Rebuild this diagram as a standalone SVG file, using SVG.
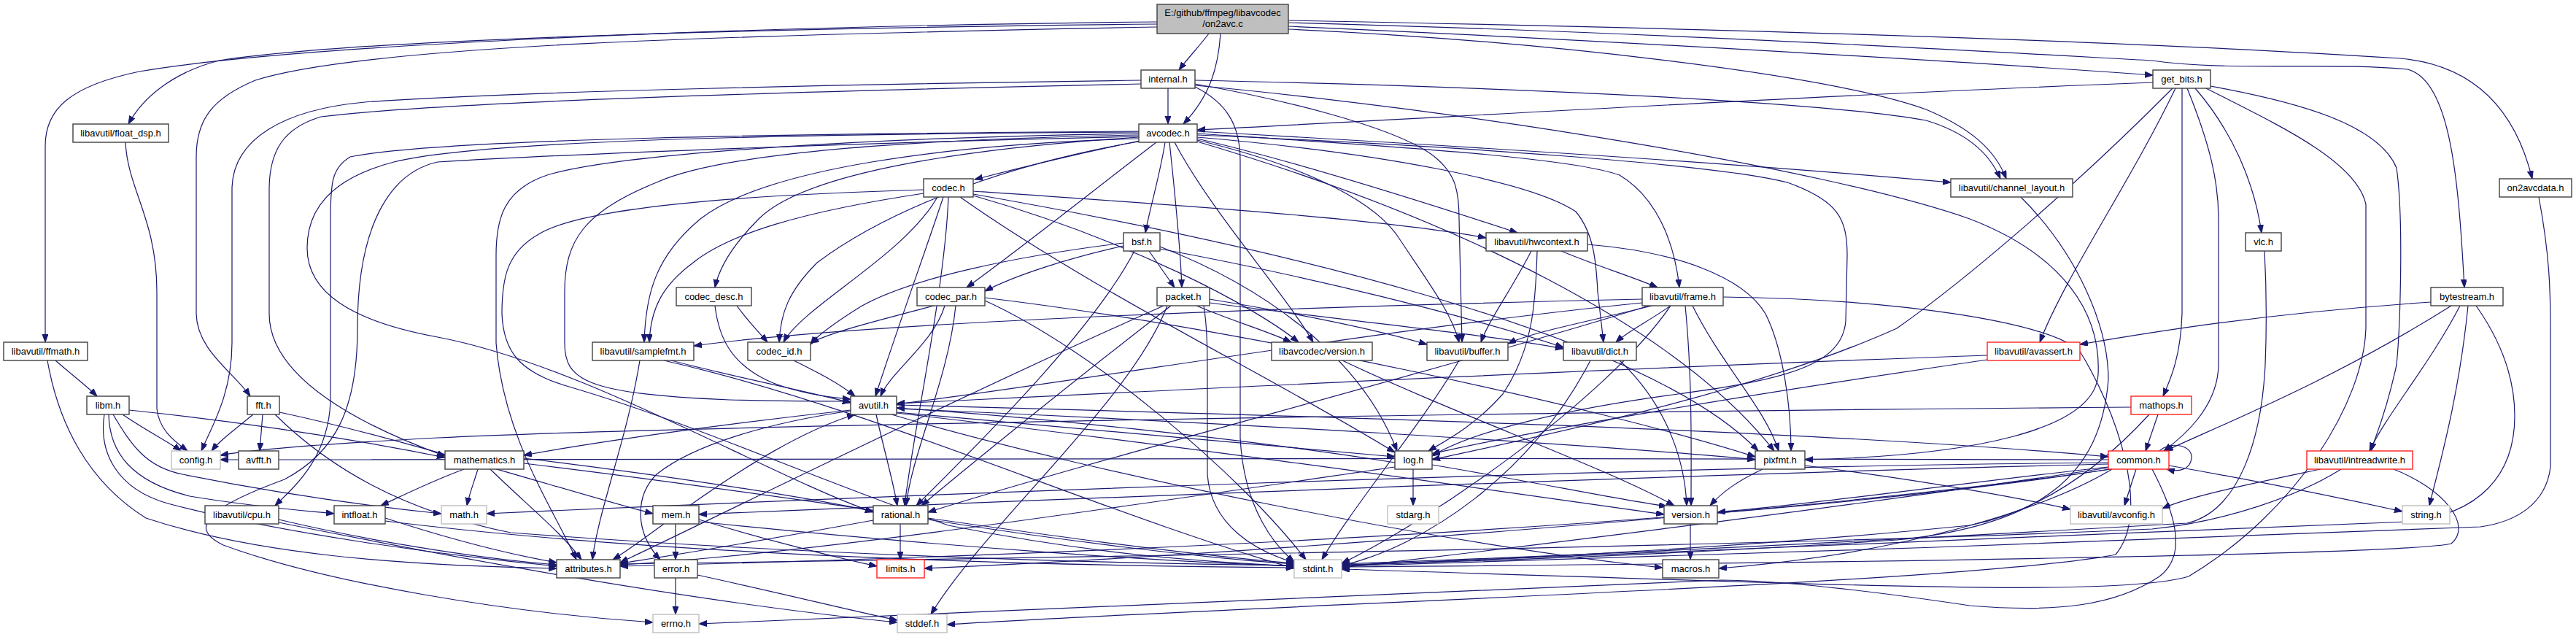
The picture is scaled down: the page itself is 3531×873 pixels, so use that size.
<svg xmlns="http://www.w3.org/2000/svg" width="3531" height="873" viewBox="0 0 3531 873">
<style>
.n rect{fill:#ffffff;stroke:#404040;stroke-width:1.4}
.n.r rect{stroke:#ff2020}
.n.g rect{stroke:#bfbfbf}
.n.root rect{fill:#bfbfbf}
text{font-family:"Liberation Sans",Arial,Helvetica,sans-serif;font-size:13px;text-anchor:middle;fill:#000000}
</style>
<defs>
<marker id="arrow" markerUnits="userSpaceOnUse" markerWidth="12" markerHeight="9" refX="11" refY="4" orient="auto">
<path d="M0,0 L11,4 L0,8 z" fill="#191970" stroke="#191970" stroke-width="1"/>
</marker>
</defs>
<rect x="0" y="0" width="3531" height="873" fill="#ffffff"/>
<g id="edges" fill="none" stroke="#191970" stroke-width="1.2" marker-end="url(#arrow)">
<path d="M1657,46 C1645,62 1628,80 1616,96"/>
<path d="M1673,46 C1670,90 1660,130 1622,170"/>
<path d="M1586,30 C1000,36 400,62 191,98 C95,118 62,150 62,200 L62,469"/>
<path d="M1586,33 C1100,38 500,52 300,83 C235,100 195,135 176,170"/>
<path d="M1586,37 C1000,48 500,62 350,110 C290,135 269,165 269,215 L269,430 C270,480 320,510 343,543"/>
<path d="M1766,40 C2100,55 2500,100 2640,150 C2700,175 2735,205 2750,245"/>
<path d="M1766,36 C2200,55 2700,85 2951,103"/>
<path d="M1766,31 C2300,45 2800,75 2950,83 C3050,98 3200,85 3300,95 C3360,110 3370,250 3378,394"/>
<path d="M1766,28 C2300,38 2900,55 3290,80 C3400,90 3450,160 3471,245"/>
<path d="M1601,121 L1601,170"/>
<path d="M1564,110 C1200,115 700,125 500,140 C390,150 318,190 318,260 L318,470 C318,540 290,585 276,618"/>
<path d="M1564,115 C1100,125 600,140 440,160 C390,175 369,205 369,260 L369,430 C369,520 500,585 610,625"/>
<path d="M1638,110 C2100,120 2500,140 2640,165 C2690,180 2725,205 2742,245"/>
<path d="M1638,117 C2000,150 2500,230 2700,300 C2830,350 2880,430 2876,513 C2872,590 2700,625 2474,630"/>
<path d="M1638,115 C1750,135 1900,170 1960,210 C1995,235 2000,260 2000,300 L2004,469"/>
<path d="M1638,119 C1680,140 1700,170 1700,220 L1700,600 C1705,700 1750,750 1774,770"/>
<path d="M1562,193 C1480,210 1390,232 1336,246"/>
<path d="M1585,195 C1500,260 1400,340 1325,394"/>
<path d="M1597,195 C1590,240 1575,290 1570,319"/>
<path d="M1603,195 C1610,260 1618,340 1620,394"/>
<path d="M1610,195 C1660,290 1760,400 1800,469"/>
<path d="M1561,188 C1300,205 1100,240 1040,300 C1000,340 985,370 980,394"/>
<path d="M1561,190 C1300,198 1050,230 960,300 C900,350 885,400 883,469"/>
<path d="M1561,185 C1300,190 1000,205 900,250 C800,290 774,330 774,400 L774,470 C774,520 800,540 1000,548 C1080,550 1130,550 1166,550"/>
<path d="M1561,183 C1200,188 850,210 750,240 C690,260 680,300 680,350 L680,470 C690,600 760,700 790,767"/>
<path d="M1561,180 C1100,183 600,190 480,215 C455,230 453,250 453,300 L453,550 C450,630 400,670 377,693"/>
<path d="M1561,187 C1200,195 800,210 600,222 C540,235 490,300 490,450 C490,560 460,620 390,657 C300,690 250,720 306,747 C450,800 700,840 895,853"/>
<path d="M1641,190 C1750,215 1900,260 2080,319"/>
<path d="M1641,183 C1900,200 2150,215 2220,240 C2270,270 2295,330 2302,394"/>
<path d="M1641,180 C2000,200 2400,225 2674,250"/>
<path d="M1641,185 C2000,200 2350,225 2450,250 C2520,275 2532,300 2532,350 L2530,440 C2525,500 2450,520 2300,540 C2150,560 2020,590 1963,625"/>
<path d="M1641,188 C1900,210 2100,250 2160,290 C2185,320 2188,360 2190,400 L2198,469"/>
<path d="M1641,192 C1800,230 1890,280 1920,330 C1960,390 1990,430 2000,469"/>
<path d="M1641,194 C2000,300 2300,450 2432,618"/>
<path d="M1561,181 C1000,184 650,195 540,222 C450,245 421,290 421,340 C421,400 480,440 600,462 C800,500 1050,650 1197,702"/>
<path d="M1561,194 C1350,230 1200,300 1120,360 C1080,400 1070,430 1068,469"/>
<path d="M1266,260 C1000,268 800,285 740,320 C695,345 688,380 688,430 C690,480 710,510 780,530 C950,580 1100,650 1300,720 C1500,760 1650,770 1774,776"/>
<path d="M1293,270 C1270,340 1230,450 1200,543"/>
<path d="M1334,262 C1600,280 1900,300 2037,326"/>
<path d="M1316,270 C1500,400 1750,520 1912,620"/>
<path d="M1334,266 C1700,330 2250,450 2410,618"/>
<path d="M1334,268 C1550,330 1720,420 1780,469"/>
<path d="M1300,270 C1295,400 1250,600 1240,693"/>
<path d="M1266,265 C1100,290 1000,320 950,360 C910,390 892,420 890,469"/>
<path d="M1285,270 C1240,350 1100,420 1074,469"/>
<path d="M1540,337 C1460,355 1390,378 1350,399"/>
<path d="M1540,333 C1400,350 1250,380 1180,420 C1140,445 1120,460 1111,472"/>
<path d="M1575,344 L1610,394"/>
<path d="M1555,344 C1500,450 1350,600 1256,693"/>
<path d="M1590,338 C1750,400 1870,500 1915,618"/>
<path d="M1590,341 C1800,380 2000,430 2143,476"/>
<path d="M1010,419 C1025,440 1040,455 1052,469"/>
<path d="M980,419 C985,460 1000,500 1060,525 C1100,540 1140,545 1166,547"/>
<path d="M1280,419 C1200,440 1140,455 1111,470"/>
<path d="M1295,419 C1280,470 1220,510 1207,543"/>
<path d="M1310,419 C1300,520 1250,620 1242,693"/>
<path d="M1350,412 C1500,480 1700,650 1790,767"/>
<path d="M1350,408 C1700,450 2200,560 2406,626"/>
<path d="M1600,419 C1550,550 1350,720 1276,842"/>
<path d="M1595,419 C1300,550 1000,700 850,771"/>
<path d="M1605,419 C1500,500 1350,620 1263,693"/>
<path d="M1650,419 C1655,450 1655,480 1655,530 L1655,650 C1660,720 1720,755 1774,771"/>
<path d="M1640,419 C1690,440 1740,455 1770,469"/>
<path d="M1658,410 C1780,430 1880,450 1956,472"/>
<path d="M1658,415 C1850,440 2050,460 2143,478"/>
<path d="M1088,494 C1120,510 1150,525 1172,543"/>
<path d="M1840,494 C2000,570 2200,640 2295,693"/>
<path d="M877,494 C860,600 820,700 812,767"/>
<path d="M920,494 C1000,515 1100,535 1166,552"/>
<path d="M910,494 C1200,560 1500,700 1774,779"/>
<path d="M1201,568 C1210,610 1222,650 1230,693"/>
<path d="M1166,562 C1000,580 820,605 718,624"/>
<path d="M1166,563 C1050,580 950,610 900,650 C870,680 870,730 905,767"/>
<path d="M1229,565 C1500,590 1750,610 1912,626"/>
<path d="M1229,560 C1700,580 2200,610 2406,630"/>
<path d="M1229,566 C1700,620 2100,680 2281,705"/>
<path d="M1222,568 C1500,650 2000,750 2279,778"/>
<path d="M1229,555 C1800,570 2500,590 2890,626"/>
<path d="M2000,494 C1950,580 1850,700 1812,767"/>
<path d="M2180,494 C2100,650 1950,750 1839,775"/>
<path d="M2220,494 C2290,560 2310,640 2312,693"/>
<path d="M2251,410 C1800,420 1200,440 951,474"/>
<path d="M2265,419 C2180,440 2100,455 2067,471"/>
<path d="M2290,419 C2260,440 2230,455 2215,469"/>
<path d="M2251,415 C1900,450 1500,520 1229,554"/>
<path d="M2320,419 C2360,500 2420,560 2438,618"/>
<path d="M2260,419 C2000,500 1500,630 1272,702"/>
<path d="M2310,419 C2320,520 2318,620 2318,693"/>
<path d="M2290,419 C2200,550 1950,720 1839,772"/>
<path d="M2362,407 C2600,410 2800,440 2850,480 C2900,560 2950,700 2900,760 C2700,800 1700,830 1298,856"/>
<path d="M2140,344 C2190,365 2240,380 2272,394"/>
<path d="M2099,344 C2070,400 2040,440 2030,469"/>
<path d="M2107,344 C2105,420 2100,480 2060,540 C2020,585 1980,605 1958,618"/>
<path d="M2176,335 C2300,345 2390,380 2420,430 C2445,480 2455,560 2455,618"/>
<path d="M2770,270 C2850,350 2890,450 2890,520 C2880,650 2800,720 2600,740 C2300,760 2000,770 1839,774"/>
<path d="M3480,270 C3495,350 3496,400 3496,450 L3496,640 C3490,690 3450,715 3400,722 C3000,740 2200,765 1839,776"/>
<path d="M3332,414 C3100,430 2950,455 2851,472"/>
<path d="M3372,419 C3330,500 3270,570 3248,618"/>
<path d="M3383,419 C3370,550 3340,650 3330,693"/>
<path d="M3360,419 C3200,520 3050,580 2968,618"/>
<path d="M3394,419 C3430,470 3447,520 3447,570 C3447,650 3400,705 3300,715 C2800,735 2200,760 1839,775"/>
<path d="M3104,344 C3107,400 3107,450 3105,500 C3100,600 3070,700 2998,717 C2600,740 2200,760 1839,773"/>
<path d="M2951,113 C2500,130 2000,160 1641,178"/>
<path d="M3009,121 C3060,180 3090,250 3100,319"/>
<path d="M2991,121 L2991,430 C2989,490 2975,520 2965,543"/>
<path d="M2998,121 C3030,200 3041,250 3041,300 L3041,500 C3040,560 2990,600 2966,618"/>
<path d="M3030,118 C3150,140 3260,170 3285,230 C3295,300 3290,450 3285,500 C3270,570 3255,600 3250,618"/>
<path d="M3024,121 C3120,170 3230,220 3243,280 L3243,450 C3240,550 3150,700 3000,790 C2900,820 2500,800 1839,780"/>
<path d="M2982,121 C2920,250 2830,380 2796,469"/>
<path d="M2978,121 C2850,250 2700,380 2600,450 C2400,540 2100,600 1963,630"/>
<path d="M2958,568 L2941,618"/>
<path d="M2921,558 C2000,565 900,585 600,600 C450,608 350,615 302,624"/>
<path d="M2946,568 C2880,640 2800,700 2700,720 C2400,750 2100,765 1839,775"/>
<path d="M2960,618 C2975,604 3006,610 3004,628 C3002,645 2985,647 2970,643"/>
<path d="M2928,643 L2912,693"/>
<path d="M2973,638 C3100,660 3220,685 3293,701"/>
<path d="M2890,630 C2000,628 800,626 302,630"/>
<path d="M2890,634 C2200,640 1200,680 667,704"/>
<path d="M2890,636 C2300,650 1300,690 958,705"/>
<path d="M2890,640 C2700,660 2500,690 2354,702"/>
<path d="M2895,643 C2800,700 2600,760 2356,779"/>
<path d="M2893,643 C2500,700 1700,760 1267,779"/>
<path d="M2892,643 C2400,720 1500,760 850,776"/>
<path d="M2950,643 C2980,700 3000,760 2960,790 C2900,830 2820,840 2700,830 C2500,800 2400,795 2360,795 C1800,815 1300,840 958,855"/>
<path d="M2890,641 C2500,700 2000,760 1839,778"/>
<path d="M3181,643 C3100,660 3000,680 2964,697"/>
<path d="M3209,643 C3150,680 3050,715 2950,725 C2400,750 1400,765 850,773"/>
<path d="M3281,643 C3350,670 3390,720 3360,745 C3300,760 2500,772 1839,777"/>
<path d="M2724,487 C2200,505 1600,535 1229,553"/>
<path d="M2724,493 C2400,540 2100,590 1963,622"/>
<path d="M1937,643 L1937,693"/>
<path d="M1963,637 C2100,660 2220,685 2285,694"/>
<path d="M1912,634 C1700,600 1400,570 1229,559"/>
<path d="M1912,640 C1500,700 1100,760 850,774"/>
<path d="M2474,638 C2650,660 2780,685 2838,698"/>
<path d="M2416,643 C2380,660 2360,675 2344,693"/>
<path d="M2317,718 L2317,767"/>
<path d="M168,568 C200,590 230,605 248,618"/>
<path d="M177,562 C350,580 500,605 610,627"/>
<path d="M155,568 C180,610 200,640 250,650 C400,680 520,695 605,704"/>
<path d="M149,568 C150,620 180,660 260,680 C350,695 420,700 458,704"/>
<path d="M143,568 C135,620 160,670 230,690 C380,730 600,760 763,776"/>
<path d="M76,494 C100,515 120,530 133,543"/>
<path d="M65,494 C80,580 120,660 200,710 C350,760 550,775 763,779"/>
<path d="M347,568 C320,590 300,605 290,618"/>
<path d="M360,568 L356,618"/>
<path d="M383,565 C550,600 800,680 895,704"/>
<path d="M377,568 C450,640 550,700 700,730 C1100,760 1500,772 1774,775"/>
<path d="M172,195 C175,260 215,300 215,400 L215,560 C218,590 240,605 257,618"/>
<path d="M655,643 C650,660 643,678 640,693"/>
<path d="M636,643 C590,660 550,680 522,693"/>
<path d="M672,643 C720,690 770,730 797,767"/>
<path d="M718,628 C900,650 1100,680 1197,701"/>
<path d="M718,635 C1100,680 1500,750 1774,772"/>
<path d="M528,710 C620,740 700,760 763,771"/>
<path d="M528,714 C900,760 1400,775 1774,778"/>
<path d="M382,712 C500,740 650,765 763,774"/>
<path d="M382,716 C700,780 1000,830 1230,853"/>
<path d="M910,718 C880,740 860,755 840,767"/>
<path d="M926,718 L926,767"/>
<path d="M945,693 C1020,640 1100,590 1172,568"/>
<path d="M958,712 C1050,740 1150,765 1202,776"/>
<path d="M958,715 C1300,750 1600,770 1774,776"/>
<path d="M1234,718 L1234,767"/>
<path d="M1272,712 C1450,740 1650,765 1774,773"/>
<path d="M1197,713 C1050,740 900,765 850,772"/>
<path d="M926,792 L926,842"/>
<path d="M956,788 C1080,815 1180,840 1230,850"/>
</g>
<g id="node-root" class="n root"><rect x="1586" y="6" width="180" height="40"/><text x="1676" y="22">E:/github/ffmpeg/libavcodec</text><text x="1676" y="37">/on2avc.c</text></g>
<g id="node-internal" class="n"><rect x="1564" y="96" width="74" height="25"/><text x="1601" y="113">internal.h</text></g>
<g id="node-get_bits" class="n"><rect x="2951" y="96" width="79" height="25"/><text x="2990.5" y="113">get_bits.h</text></g>
<g id="node-float_dsp" class="n"><rect x="100" y="170" width="131" height="25"/><text x="165.5" y="187">libavutil/float_dsp.h</text></g>
<g id="node-avcodec" class="n"><rect x="1561" y="170" width="80" height="25"/><text x="1601" y="187">avcodec.h</text></g>
<g id="node-codec" class="n"><rect x="1266" y="245" width="68" height="25"/><text x="1300" y="262">codec.h</text></g>
<g id="node-channel_layout" class="n"><rect x="2674" y="245" width="167" height="25"/><text x="2757.5" y="262">libavutil/channel_layout.h</text></g>
<g id="node-on2avcdata" class="n"><rect x="3426" y="245" width="99" height="25"/><text x="3475.5" y="262">on2avcdata.h</text></g>
<g id="node-bsf" class="n"><rect x="1540" y="319" width="50" height="25"/><text x="1565" y="336">bsf.h</text></g>
<g id="node-hwcontext" class="n"><rect x="2037" y="319" width="139" height="25"/><text x="2106.5" y="336">libavutil/hwcontext.h</text></g>
<g id="node-vlc" class="n"><rect x="3078" y="319" width="49" height="25"/><text x="3102.5" y="336">vlc.h</text></g>
<g id="node-codec_desc" class="n"><rect x="927" y="394" width="103" height="25"/><text x="978.5" y="411">codec_desc.h</text></g>
<g id="node-codec_par" class="n"><rect x="1257" y="394" width="93" height="25"/><text x="1303.5" y="411">codec_par.h</text></g>
<g id="node-packet" class="n"><rect x="1586" y="394" width="72" height="25"/><text x="1622" y="411">packet.h</text></g>
<g id="node-frame" class="n"><rect x="2251" y="394" width="111" height="25"/><text x="2306.5" y="411">libavutil/frame.h</text></g>
<g id="node-bytestream" class="n"><rect x="3332" y="394" width="99" height="25"/><text x="3381.5" y="411">bytestream.h</text></g>
<g id="node-ffmath" class="n"><rect x="5" y="469" width="115" height="25"/><text x="62.5" y="486">libavutil/ffmath.h</text></g>
<g id="node-samplefmt" class="n"><rect x="812" y="469" width="139" height="25"/><text x="881.5" y="486">libavutil/samplefmt.h</text></g>
<g id="node-codec_id" class="n"><rect x="1025" y="469" width="86" height="25"/><text x="1068" y="486">codec_id.h</text></g>
<g id="node-lavc_version" class="n"><rect x="1743" y="469" width="138" height="25"/><text x="1812" y="486">libavcodec/version.h</text></g>
<g id="node-buffer" class="n"><rect x="1956" y="469" width="111" height="25"/><text x="2011.5" y="486">libavutil/buffer.h</text></g>
<g id="node-dict" class="n"><rect x="2143" y="469" width="100" height="25"/><text x="2193" y="486">libavutil/dict.h</text></g>
<g id="node-avassert" class="n r"><rect x="2724" y="469" width="127" height="25"/><text x="2787.5" y="486">libavutil/avassert.h</text></g>
<g id="node-libm" class="n"><rect x="119" y="543" width="58" height="25"/><text x="148" y="560">libm.h</text></g>
<g id="node-fft" class="n"><rect x="339" y="543" width="44" height="25"/><text x="361" y="560">fft.h</text></g>
<g id="node-avutil" class="n"><rect x="1166" y="543" width="63" height="25"/><text x="1197.5" y="560">avutil.h</text></g>
<g id="node-mathops" class="n r"><rect x="2921" y="543" width="83" height="25"/><text x="2962.5" y="560">mathops.h</text></g>
<g id="node-config" class="n g"><rect x="235" y="618" width="67" height="25"/><text x="268.5" y="635">config.h</text></g>
<g id="node-avfft" class="n"><rect x="327" y="618" width="55" height="25"/><text x="354.5" y="635">avfft.h</text></g>
<g id="node-mathematics" class="n"><rect x="610" y="618" width="108" height="25"/><text x="664" y="635">mathematics.h</text></g>
<g id="node-log" class="n"><rect x="1912" y="618" width="51" height="25"/><text x="1937.5" y="635">log.h</text></g>
<g id="node-pixfmt" class="n"><rect x="2406" y="618" width="68" height="25"/><text x="2440" y="635">pixfmt.h</text></g>
<g id="node-common" class="n r"><rect x="2890" y="618" width="83" height="25"/><text x="2931.5" y="635">common.h</text></g>
<g id="node-intreadwrite" class="n r"><rect x="3162" y="618" width="145" height="25"/><text x="3234.5" y="635">libavutil/intreadwrite.h</text></g>
<g id="node-cpu" class="n"><rect x="281" y="693" width="101" height="25"/><text x="331.5" y="710">libavutil/cpu.h</text></g>
<g id="node-intfloat" class="n"><rect x="458" y="693" width="70" height="25"/><text x="493" y="710">intfloat.h</text></g>
<g id="node-math" class="n g"><rect x="605" y="693" width="62" height="25"/><text x="636" y="710">math.h</text></g>
<g id="node-mem" class="n"><rect x="895" y="693" width="63" height="25"/><text x="926.5" y="710">mem.h</text></g>
<g id="node-rational" class="n"><rect x="1197" y="693" width="75" height="25"/><text x="1234.5" y="710">rational.h</text></g>
<g id="node-stdarg" class="n g"><rect x="1902" y="693" width="70" height="25"/><text x="1937" y="710">stdarg.h</text></g>
<g id="node-version" class="n"><rect x="2281" y="693" width="73" height="25"/><text x="2317.5" y="710">version.h</text></g>
<g id="node-avconfig" class="n g"><rect x="2838" y="693" width="126" height="25"/><text x="2901" y="710">libavutil/avconfig.h</text></g>
<g id="node-string" class="n g"><rect x="3293" y="693" width="65" height="25"/><text x="3325.5" y="710">string.h</text></g>
<g id="node-attributes" class="n"><rect x="763" y="767" width="87" height="25"/><text x="806.5" y="784">attributes.h</text></g>
<g id="node-error" class="n"><rect x="897" y="767" width="59" height="25"/><text x="926.5" y="784">error.h</text></g>
<g id="node-limits" class="n r"><rect x="1202" y="767" width="65" height="25"/><text x="1234.5" y="784">limits.h</text></g>
<g id="node-stdint" class="n g"><rect x="1774" y="767" width="65" height="25"/><text x="1806.5" y="784">stdint.h</text></g>
<g id="node-macros" class="n"><rect x="2279" y="767" width="77" height="25"/><text x="2317.5" y="784">macros.h</text></g>
<g id="node-errno" class="n g"><rect x="895" y="842" width="63" height="25"/><text x="926.5" y="859">errno.h</text></g>
<g id="node-stddef" class="n g"><rect x="1230" y="842" width="68" height="25"/><text x="1264" y="859">stddef.h</text></g>
</svg>
